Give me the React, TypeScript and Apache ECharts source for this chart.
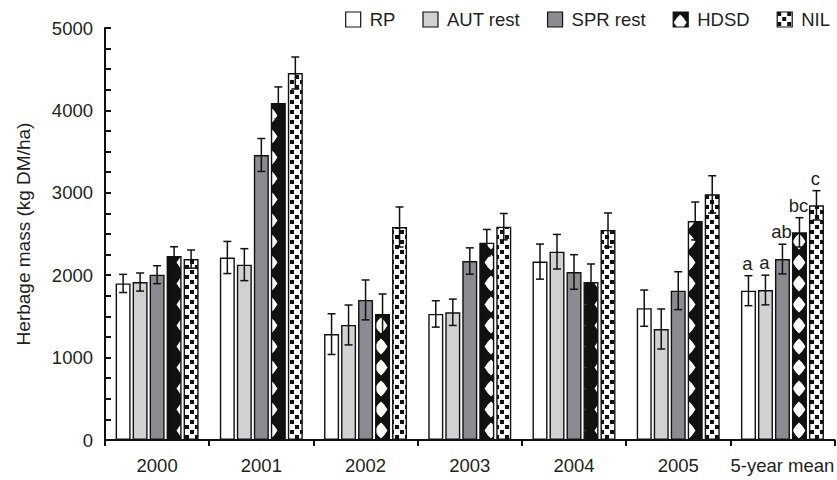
import React, { useEffect, useRef } from "react";
import * as echarts from "echarts";

const categories = ["2000", "2001", "2002", "2003", "2004", "2005", "5-year mean"];
const seriesNames = ["RP", "AUT rest", "SPR rest", "HDSD", "NIL"];

const rpValues = [1900, 2215, 1285, 1530, 2165, 1600, 1812];
const rpErrors = [110, 195, 247, 160, 213, 220, 182];
const autValues = [1917, 2128, 1396, 1550, 2285, 1347, 1820];
const autErrors = [110, 194, 242, 160, 210, 243, 180];
const sprValues = [2006, 3459, 1700, 2172, 2039, 1812, 2196];
const sprErrors = [109, 200, 242, 160, 210, 230, 180];
const hdsdValues = [2233, 4090, 1530, 2395, 1917, 2658, 2520];
const hdsdErrors = [112, 195, 242, 160, 219, 230, 178];
const nilValues = [2196, 4454, 2585, 2589, 2549, 2981, 2848];
const nilErrors = [110, 194, 243, 160, 206, 226, 178];
const meanLetters = ["a", "a", "ab", "bc", "c"];
const yTicks = [0, 1000, 2000, 3000, 4000, 5000];

const allValues = [rpValues, autValues, sprValues, hdsdValues, nilValues];
const allErrors = [rpErrors, autErrors, sprErrors, hdsdErrors, nilErrors];

const FONT = "'Liberation Sans', Arial, Helvetica, sans-serif";
const TEXT = "#231f20";
const FS = 18.5;

function makeHdsdTile(): HTMLCanvasElement {
  const c = document.createElement("canvas");
  c.width = 22;
  c.height = 21;
  const ctx = c.getContext("2d")!;
  ctx.fillStyle = "#111";
  ctx.fillRect(0, 0, 22, 21);
  ctx.fillStyle = "#fff";
  const cy = 10.5;
  [7, 7 - 22, 7 + 22].forEach((cx) => {
    ctx.beginPath();
    ctx.moveTo(cx, cy - 8);
    ctx.lineTo(cx + 3, cy - 5);
    ctx.lineTo(cx + 6.5, cy);
    ctx.lineTo(cx + 3, cy + 5);
    ctx.lineTo(cx, cy + 8);
    ctx.lineTo(cx - 3, cy + 5);
    ctx.lineTo(cx - 6.5, cy);
    ctx.lineTo(cx - 3, cy - 5);
    ctx.closePath();
    ctx.fill();
  });
  return c;
}

function makeNilTile(): HTMLCanvasElement {
  const c = document.createElement("canvas");
  c.width = 10;
  c.height = 10;
  const ctx = c.getContext("2d")!;
  ctx.fillStyle = "#fff";
  ctx.fillRect(0, 0, 10, 10);
  ctx.fillStyle = "#111";
  ctx.fillRect(0, 0, 4, 4);
  ctx.fillRect(5, 5, 4, 4);
  return c;
}

export default function App() {
  const ref = useRef<HTMLDivElement>(null);

  useEffect(() => {
    document.body.style.margin = "0";
    if (!ref.current) return;
    const chart = echarts.init(ref.current, null, { renderer: "svg" });

    const hdsd = makeHdsdTile();
    const nil = makeNilTile();
    const fills: any[] = [
      "#ffffff",
      "#d0d1d3",
      "#8b8c8f",
      { image: hdsd, repeat: "repeat", imageWidth: 22, imageHeight: 21 },
      { image: nil, repeat: "repeat", imageWidth: 10, imageHeight: 10 },
    ];

    const errData: number[][] = [];
    const errLabels: string[] = [];
    allValues.forEach((vals, s) => {
      vals.forEach((v, c) => {
        errData.push([c, v, allErrors[s][c], s]);
        errLabels.push(c === categories.length - 1 ? meanLetters[s] : "");
      });
    });

    const barSeries = seriesNames.map((name, s) => ({
      name,
      type: "bar",
      data: allValues[s],
      barWidth: 15,
      barGap: "13.3%",
      itemStyle: { color: fills[s], borderColor: "#111", borderWidth: 1.4 },
      z: 2,
    }));

    const option: any = {
      animation: false,
      textStyle: { fontFamily: FONT },
      legend: {
        data: seriesNames,
        right: 2,
        top: 5,
        itemWidth: 15,
        itemHeight: 15,
        itemGap: 27,
        icon: "rect",
        itemStyle: { borderColor: "#111", borderWidth: 1.2 },
        textStyle: { fontSize: FS, color: TEXT, fontFamily: FONT, padding: [0, 0, 0, 4] },
      },
      grid: { left: 105, top: 28, width: 735, height: 412, containLabel: false },
      xAxis: {
        type: "category",
        data: categories,
        axisLine: { lineStyle: { color: "#111", width: 2 } },
        axisTick: { show: true, inside: false, length: 6, lineStyle: { color: "#111", width: 2 } },
        axisLabel: { fontSize: FS, color: TEXT, margin: 16, fontFamily: FONT, interval: 0 },
      },
      yAxis: {
        type: "value",
        min: yTicks[0],
        max: yTicks[yTicks.length - 1],
        interval: 250,
        name: "Herbage mass (kg DM/ha)",
        nameLocation: "middle",
        nameRotate: 90,
        nameGap: 72,
        nameTextStyle: { fontSize: 19, color: TEXT, fontFamily: FONT },
        axisLine: { show: true, lineStyle: { color: "#111", width: 2 } },
        axisTick: { show: true, inside: true, length: 6, lineStyle: { color: "#111", width: 2 } },
        splitLine: { show: false },
        axisLabel: {
          fontSize: FS,
          color: TEXT,
          margin: 12,
          fontFamily: FONT,
          formatter: (v: number) => (yTicks.indexOf(v) >= 0 ? String(v) : ""),
        },
      },
      series: [
        ...barSeries,
        {
          type: "custom",
          name: "errors",
          data: errData,
          encode: { x: 0, y: 1 },
          z: 5,
          silent: true,
          renderItem: (params: any, api: any) => {
            const cat = api.value(0);
            const val = api.value(1);
            const err = api.value(2);
            const s = api.value(3);
            const base = api.coord([cat, val]);
            const x = base[0] + (s - 2) * 17;
            const top = api.coord([cat, val + err])[1];
            const bot = api.coord([cat, val - err])[1];
            const st = { stroke: "#111", lineWidth: 1.5 };
            const children: any[] = [
              { type: "line", shape: { x1: x, y1: top, x2: x, y2: bot }, style: st },
              { type: "line", shape: { x1: x - 4, y1: top, x2: x + 4, y2: top }, style: st },
              { type: "line", shape: { x1: x - 4, y1: bot, x2: x + 4, y2: bot }, style: st },
            ];
            const lab = errLabels[params.dataIndex];
            if (lab) {
              children.push({
                type: "text",
                x: x - 1,
                y: top - 3,
                style: {
                  text: lab,
                  fill: TEXT,
                  font: `${FS}px ${FONT}`,
                  align: "center",
                  verticalAlign: "bottom",
                },
              });
            }
            return { type: "group", children };
          },
        },
      ],
    };

    chart.setOption(option);
    return () => chart.dispose();
  }, []);

  return (
    <div
      ref={ref}
      style={{ position: "fixed", left: 0, top: 0, width: 837, height: 480, background: "#fff" }}
    />
  );
}
